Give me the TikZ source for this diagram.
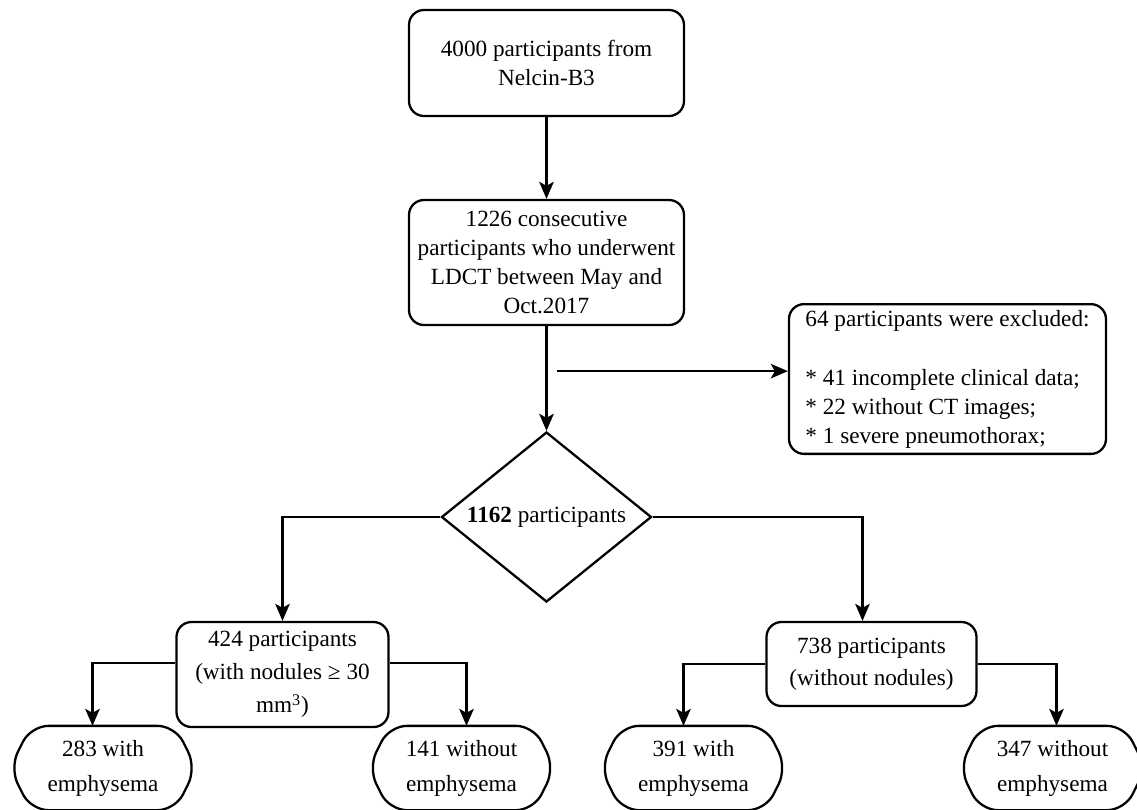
\documentclass[tikz,border=0pt]{standalone}
\usepackage{fontspec}
\setmainfont{Liberation Serif}
\usepackage{tikz}
\usetikzlibrary{shapes.geometric, arrows.meta}
\tikzset{
>={Stealth[length=0.34cm, width=0.29cm, inset=0.08cm]}, % makes the arrow heads bold
every node/.style={font=\fontsize{13.2}{16.5}\selectfont}, % text size of the chart
box/.style={draw, rounded corners=0.3cm, align=center}, % rounded boxes
choice/.style={draw, diamond, aspect=1.2, inner sep=0pt, minimum width=4.2cm, minimum height=3.4cm}, % the split
leaf/.style={align=center, minimum width=3.68cm, minimum height=1.64cm}, % end boxes, outline drawn below
elbow/.style={to path={-| (\tikztotarget)}}, % horizontal then vertical
}

\begin{document}
\begin{tikzpicture}[line width=1.3pt]
    \useasboundingbox (-10.93,1.26) rectangle (11.81,-14.92);
    \node[box, minimum width=5.5cm, minimum height=2.12cm] (start) at (0,0) {4000 participants from\\Nelcin-B3};
    \node[box, minimum width=5.5cm, minimum height=2.5cm, node distance=3.99cm, below of=start] (ldct) {1226 consecutive\\participants who underwent\\LDCT between May and\\Oct.2017};
    \node[choice, node distance=5.09cm, below of=ldct] (total) {\textbf{1162} participants};
    \node[box, align=left, minimum width=6.34cm, minimum height=2.96cm, node distance=8.02cm, right of=ldct, yshift=-2.33cm] (excl) {64 participants were excluded:\\[0.6cm]{}* 41 incomplete clinical data;\\{}* 22 without CT images;\\{}* 1 severe pneumothorax;};
    \node[box, minimum width=4.24cm, minimum height=2.1cm, node distance=5.28cm, left of=total, yshift=-3.15cm] (nod) {424 participants\\[0.08cm](with nodules ≥ 30\\[0.08cm]mm\textsuperscript{3})};
    \node[box, minimum width=4.2cm, minimum height=1.68cm, node distance=6.5cm, right of=total, yshift=-2.94cm] (nonod) {738 participants\\[0.05cm](without nodules)};
    \node[leaf, node distance=3.59cm, left of=nod, yshift=-1.87cm] (h1) {283 with\\[0.12cm]emphysema};
    \node[leaf, node distance=3.58cm, right of=nod, yshift=-1.87cm] (h2) {141 without\\[0.12cm]emphysema};
    \node[leaf, node distance=3.56cm, left of=nonod, yshift=-2.08cm] (h3) {391 with\\[0.12cm]emphysema};
    \node[leaf, node distance=3.62cm, right of=nonod, yshift=-2.08cm] (h4) {347 without\\[0.12cm]emphysema};
    \coordinate (cut) at ([xshift=0.21cm, yshift=-0.9cm]ldct.south);
    % hexagon outlines
    \foreach \h in {h1, h2, h3, h4}
        \draw[rounded corners=0.35cm] (\h.west) -- ([xshift=0.42cm]\h.north west) -- ([xshift=-0.42cm]\h.north east)
            -- (\h.east) -- ([xshift=-0.42cm]\h.south east) -- ([xshift=0.42cm]\h.south west) -- cycle;
    \path[->]
    (start) edge (ldct)
    (ldct) edge (total)
    (cut) edge (cut -| excl.west)
    (total.west) edge[elbow] (nod.north)
    (total.east) edge[elbow] ([xshift=-0.18cm]nonod.north)
    ([yshift=0.23cm]nod.west) edge[elbow] ([xshift=-0.21cm]h1.north)
    ([yshift=0.23cm]nod.east) edge[elbow] ([xshift=0.1cm]h2.north)
    (nonod.west) edge[elbow] ([xshift=-0.2cm]h3.north)
    (nonod.east) edge[elbow] ([xshift=0.08cm]h4.north);
\end{tikzpicture}
\end{document}
